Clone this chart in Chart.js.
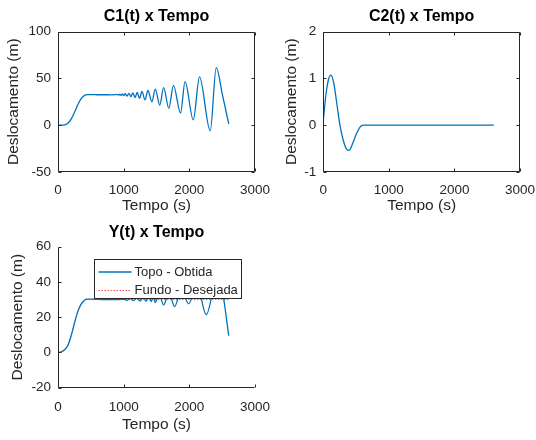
<!DOCTYPE html>
<html>
<head>
<meta charset="utf-8">
<script src="https://cdn.jsdelivr.net/npm/chart.js@4.4.1/dist/chart.umd.min.js"></script>
<style>
  body { margin: 0; background: #fff; }
  canvas { position: absolute; }
</style>
</head>
<body>
<canvas id="c1" width="275" height="220" style="left:0;top:0"></canvas>
<canvas id="c2" width="268" height="220" style="left:268px;top:0"></canvas>
<canvas id="c3" width="275" height="220" style="left:0;top:220px"></canvas>
<script>
// valores (tempo em s, deslocamento em m)
const tempoC1 = [0, 60, 100, 150, 200, 250, 300, 350, 400, 450, 520, 600, 700, 800, 870,
  900, 920, 940, 960, 980, 1000, 1025, 1050, 1080, 1110, 1140, 1175, 1205, 1242, 1278,
  1325, 1370, 1430, 1481, 1550, 1608, 1688, 1758, 1866, 1935, 2060, 2155, 2318, 2410, 2505, 2600];
const valC1 = [0, 0, 0.3, 2, 6.5, 13.5, 21.5, 28, 31.5, 32.5, 32.6, 32.5, 32.5, 32.4, 32.5,
  32.8, 32.2, 33, 31.8, 33.3, 31.5, 33.6, 31, 34, 30.3, 34.5, 29.5, 35, 28.6, 36,
  27, 37, 25, 38.5, 21.5, 40, 18, 42.5, 13, 46.5, 5.7, 51.5, -6, 61.5, 32, 1.4];

const tempoC2 = [0, 40, 80, 117, 160, 210, 254, 300, 350, 391, 440, 500, 560, 610, 700, 2600];
const valC2 = [0.1, 0.65, 0.98, 1.07, 0.9, 0.42, 0, -0.3, -0.5, -0.54, -0.42, -0.2, -0.04, 0, 0, 0];

const tempoTopo = [0, 50, 100, 150, 200, 250, 300, 350, 400, 450, 520, 700, 900, 1000,
  1050, 1100, 1150, 1200, 1250, 1300, 1340, 1380, 1420, 1450, 1481, 1540, 1608, 1690,
  1775, 1880, 1988, 2120, 2257, 2440, 2521, 2600];
const valTopo = [0, 0.3, 1.5, 4, 9.5, 16.5, 23, 27.3, 29.5, 30.2, 30.2, 30, 30, 30.3,
  29.6, 30.6, 29.4, 31, 29.2, 31.5, 29, 32, 28.8, 32.5, 28.3, 33, 27, 34,
  26, 36, 27.6, 38, 21.4, 46, 31, 9.5];

const tempoFundo = [0, 50, 100, 150, 200, 250, 300, 350, 400, 450, 520, 2600];
const valFundo = [0, 0.3, 1.5, 4, 9.5, 16.5, 23, 27.3, 29.5, 30.2, 30, 30];

const ticksX = [0, 1000, 2000, 3000];
const ticksC1 = [-50, 0, 50, 100];
const ticksC2 = [-1, 0, 1, 2];
const ticksY = [-20, 0, 20, 40, 60];

const FONTE = '"Liberation Sans", Arial, Helvetica, sans-serif';
const COR_TEXTO = '#262626';
const AZUL = '#0072BD';

const pares = (xs, ys) => xs.map((x, i) => ({ x, y: ys[i] }));

// caixa dos eixos com marcas para dentro (estilo MATLAB), título e legenda interna
const moldura = {
  id: 'moldura',
  afterDraw(chart, args, opts) {
    const { ctx, chartArea: a, scales: { x, y } } = chart;
    const L = Math.round(a.left) + 0.5, R = Math.round(a.right) - 0.5;
    const T = Math.round(a.top) + 0.5, B = Math.round(a.bottom) - 0.5;
    ctx.save();
    ctx.strokeStyle = COR_TEXTO;
    ctx.lineWidth = 1;
    ctx.beginPath();
    ctx.moveTo(L, T); ctx.lineTo(L, B); ctx.lineTo(R, B);
    if (opts.caixa) { ctx.lineTo(R, T); ctx.lineTo(L, T); }
    x.ticks.forEach(t => {
      const p = Math.round(x.getPixelForValue(t.value)) + 0.5;
      ctx.moveTo(p, B); ctx.lineTo(p, B - 3);
      if (opts.caixa) { ctx.moveTo(p, T); ctx.lineTo(p, T + 3); }
    });
    y.ticks.forEach(t => {
      const p = Math.round(y.getPixelForValue(t.value)) + 0.5;
      ctx.moveTo(L, p); ctx.lineTo(L + 3, p);
      if (opts.caixa) { ctx.moveTo(R, p); ctx.lineTo(R - 3, p); }
    });
    ctx.stroke();

    // título centrado sobre a área do gráfico
    ctx.fillStyle = '#000';
    ctx.font = 'bold 16px ' + FONTE;
    ctx.textAlign = 'center';
    ctx.textBaseline = 'middle';
    ctx.fillText(opts.titulo, (a.left + a.right) / 2, opts.tituloY);

    if (opts.legenda) {
      const bx = Math.round(a.left + 35.5) + 0.5, by = Math.round(a.top + 12.5) + 0.5;
      const bw = 147, bh = 39;
      ctx.fillStyle = '#fff';
      ctx.fillRect(bx, by, bw, bh);
      ctx.strokeRect(bx, by, bw, bh);
      ctx.font = '13px ' + FONTE;
      ctx.textAlign = 'left';
      chart.data.datasets.forEach((ds, i) => {
        const cy = by + 12.5 + i * 18.5;
        ctx.beginPath();
        ctx.strokeStyle = ds.borderColor;
        ctx.lineWidth = ds.borderWidth;
        ctx.setLineDash(ds.borderDash || []);
        ctx.moveTo(bx + 4, cy); ctx.lineTo(bx + 37, cy);
        ctx.stroke();
        ctx.setLineDash([]);
        ctx.fillStyle = COR_TEXTO;
        ctx.fillText(ds.label, bx + 40, cy);
      });
    }
    ctx.restore();
  }
};

function grafico(id, cfg) {
  return new Chart(document.getElementById(id), {
    type: 'line',
    data: { datasets: cfg.datasets },
    options: {
      responsive: false,
      animation: false,
      layout: { padding: { right: cfg.padDir, top: cfg.topo, left: 0, bottom: 0 } },
      plugins: {
        legend: { display: false },
        tooltip: { enabled: false },
        title: { display: false },
        moldura: { caixa: cfg.caixa, legenda: cfg.legenda, titulo: cfg.titulo, tituloY: cfg.tituloY }
      },
      scales: {
        x: {
          type: 'linear', min: 0, max: 3000,
          afterBuildTicks: s => { s.ticks = ticksX.map(v => ({ value: v })); },
          afterFit: s => { s.height = cfg.altX; s.paddingLeft = 0; s.paddingRight = 0; },
          grid: { display: false, drawTicks: false }, border: { display: false },
          ticks: { color: COR_TEXTO, font: { family: FONTE, size: 13.5 }, padding: cfg.padTickX,
                   maxRotation: 0, callback: v => String(v) },
          title: { display: true, text: 'Tempo (s)', color: COR_TEXTO,
                   font: { family: FONTE, size: 15.5 }, padding: { bottom: cfg.padTitX } }
        },
        y: {
          type: 'linear', min: cfg.yTicks[0], max: cfg.yTicks[cfg.yTicks.length - 1],
          afterBuildTicks: s => { s.ticks = cfg.yTicks.map(v => ({ value: v })); },
          afterFit: s => { s.width = cfg.largY; },
          grid: { display: false, drawTicks: false }, border: { display: false },
          ticks: { color: COR_TEXTO, font: { family: FONTE, size: 13.5 }, padding: 7,
                   callback: v => String(v) },
          title: { display: true, text: 'Deslocamento (m)', color: COR_TEXTO,
                   font: { family: FONTE, size: 15.5 }, padding: { top: cfg.padTitY } }
        }
      }
    },
    plugins: [moldura]
  });
}

const linha = (label, xs, ys, extra) => Object.assign({
  label, data: pares(xs, ys), borderColor: AZUL, borderWidth: 1.3,
  pointRadius: 0, fill: false, cubicInterpolationMode: 'monotone'
}, extra || {});

grafico('c1', {
  titulo: 'C1(t) x Tempo', tituloY: 17, topo: 31.5,
  datasets: [linha('C1', tempoC1, valC1)], yTicks: ticksC1,
  largY: 58, altX: 48, padDir: 20, padTickX: 10, padTitX: 4.5, padTitY: 4,
  caixa: true, legenda: false
});

grafico('c2', {
  titulo: 'C2(t) x Tempo', tituloY: 17, topo: 31.5,
  datasets: [linha('C2', tempoC2, valC2)], yTicks: ticksC2,
  largY: 55.3, altX: 48, padDir: 16, padTickX: 10, padTitX: 4.5, padTitY: 14,
  caixa: true, legenda: false
});

grafico('c3', {
  titulo: 'Y(t) x Tempo', tituloY: 13, topo: 26.7,
  datasets: [
    linha('Topo - Obtida', tempoTopo, valTopo),
    linha('Fundo - Desejada', tempoFundo, valFundo,
          { borderColor: 'rgba(255,0,0,0.7)', borderWidth: 1, borderDash: [1.5, 1.5] })
  ],
  yTicks: ticksY,
  largY: 58, altX: 52.3, padDir: 20, padTickX: 11, padTitX: 5.5, padTitY: 8.5,
  caixa: false, legenda: true
});
</script>
</body>
</html>
